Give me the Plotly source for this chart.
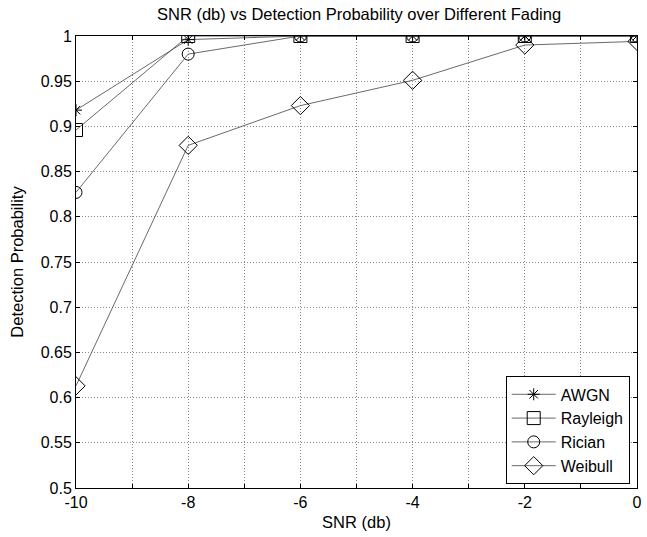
import plotly.graph_objects as go

snr = [-10, -8, -6, -4, -2, 0]
awgn = [0.918, 0.996, 1.0, 1.0, 1.0, 1.0]
rayleigh = [0.896, 1.0, 1.0, 1.0, 1.0, 1.0]
rician = [0.827, 0.980, 1.0, 1.0, 1.0, 1.0]
weibull = [0.613, 0.879, 0.923, 0.951, 0.990, 0.994]

x_tickvals = list(range(-10, 1))
x_ticktext = [str(v) if v % 2 == 0 else "" for v in x_tickvals]
y_tickvals = [0.5, 0.55, 0.6, 0.65, 0.7, 0.75, 0.8, 0.85, 0.9, 0.95, 1.0]
y_ticktext = ["0.5", "0.55", "0.6", "0.65", "0.7", "0.75", "0.8", "0.85", "0.9", "0.95", "1"]

series = [
    ("AWGN", awgn, "asterisk-open", 10),
    ("Rayleigh", rayleigh, "square-open", 13),
    ("Rician", rician, "circle-open", 12),
    ("Weibull", weibull, "diamond-open", 14),
]

fig = go.Figure()
for name, ys, sym, sz in series:
    fig.add_trace(go.Scatter(
        x=snr, y=ys, name=name, mode="lines+markers",
        line=dict(color="#444444", width=0.8),
        marker=dict(symbol=sym, size=sz, color="black",
                    line=dict(color="black", width=1)),
    ))

font = "Liberation Sans, Arial, sans-serif"
fig.update_layout(
    width=647, height=537,
    margin=dict(l=76, r=5, t=36, b=49),
    paper_bgcolor="white", plot_bgcolor="white",
    font=dict(family=font, size=16, color="black"),
    title=dict(text="SNR (db) vs Detection Probability over Different Fading",
               x=0.555, xanchor="center", y=0.974, yanchor="middle",
               font=dict(size=16.5)),
    showlegend=True,
    legend=dict(x=0.987, y=0.008, xanchor="right", yanchor="bottom",
                bgcolor="white", bordercolor="black", borderwidth=1,
                font=dict(size=16), itemwidth=44, tracegroupgap=0),
)
fig.update_xaxes(
    range=[-10, 0], tickvals=x_tickvals, ticktext=x_ticktext,
    ticks="inside", ticklen=4, tickcolor="black",
    showline=True, linecolor="black", linewidth=1, mirror="ticks",
    showgrid=True, gridcolor="#888888", griddash="1px,2px", gridwidth=1,
    zeroline=False, tickfont=dict(size=16),
    title=dict(text="SNR (db)", standoff=6, font=dict(size=16.5)),
)
fig.update_yaxes(
    range=[0.5, 1.0], tickvals=y_tickvals, ticktext=y_ticktext,
    ticks="inside", ticklen=4, tickcolor="black",
    showline=True, linecolor="black", linewidth=1, mirror="ticks",
    showgrid=True, gridcolor="#888888", griddash="1px,2px", gridwidth=1,
    zeroline=False, tickfont=dict(size=16),
    title=dict(text="Detection Probability", standoff=12, font=dict(size=16.5)),
)
fig.write_html("out.html")
